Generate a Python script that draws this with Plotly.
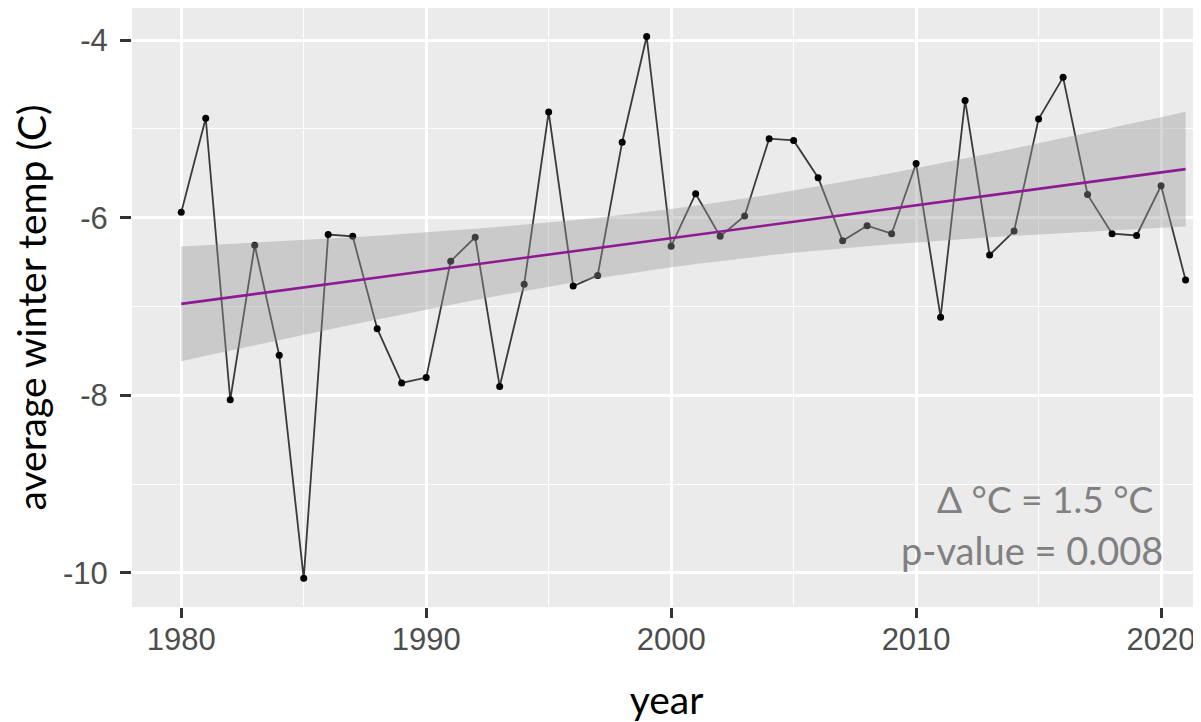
import numpy as np
import plotly.graph_objects as go

# ---- data ----
years = list(range(1980, 2022))
temps = [-5.94, -4.88, -8.05, -6.31, -7.55, -10.06, -6.19, -6.21, -7.25, -7.86,
         -7.80, -6.49, -6.22, -7.90, -6.75, -4.81, -6.77, -6.65, -5.15, -3.96,
         -6.32, -5.73, -6.21, -5.98, -5.11, -5.13, -5.55, -6.26, -6.09, -6.18,
         -5.39, -7.12, -4.68, -6.42, -6.15, -4.89, -4.42, -5.74, -6.18, -6.20,
         -5.64, -6.70]
x_ticks = [1980, 1990, 2000, 2010, 2020]
y_ticks = [-10, -8, -6, -4]
note_line1 = "Δ °C = 1.5 °C"
note_line2 = "p-value = 0.008"

# ---- linear fit with 95% confidence band (like geom_smooth(method="lm")) ----
x = np.array(years, dtype=float)
y = np.array(temps, dtype=float)
n = len(x)
slope, intercept = np.polyfit(x, y, 1)
fit = intercept + slope * x
resid = y - fit
s = np.sqrt(np.sum(resid ** 2) / (n - 2))
xbar = x.mean()
sxx = np.sum((x - xbar) ** 2)
t_crit = 2.0211  # t(0.975, df=40)
se = s * np.sqrt(1.0 / n + (x - xbar) ** 2 / sxx)
upper = fit + t_crit * se
lower = fit - t_crit * se

fig = go.Figure()

# observed series: line + points
fig.add_trace(go.Scatter(
    x=years, y=temps, mode="lines+markers",
    line=dict(color="#3a3a3a", width=1.8),
    marker=dict(color="#000000", size=7),
    showlegend=False, hoverinfo="x+y"))

# confidence ribbon (drawn over the points, as in ggplot)
fig.add_trace(go.Scatter(
    x=list(x) + list(x[::-1]), y=list(upper) + list(lower[::-1]),
    fill="toself", fillcolor="rgba(153,153,153,0.4)",
    line=dict(width=0), mode="lines", showlegend=False, hoverinfo="skip"))

# fitted line
fig.add_trace(go.Scatter(
    x=years, y=list(fit), mode="lines",
    line=dict(color="#8E1A94", width=2.6),
    showlegend=False, hoverinfo="skip"))

tick_font = dict(family="Liberation Sans, Arial, sans-serif", size=31, color="#4d4d4d")
title_font = dict(family="Lato, sans-serif", size=39, color="#000000")

# the page body adds an 8px margin, so the figure is sized to fit the window
fig.update_layout(
    width=1193, height=714,
    margin=dict(l=124, r=0, t=0, b=115),
    paper_bgcolor="white",
    plot_bgcolor="#EBEBEB",
    xaxis=dict(
        range=[1977.99, 2021.63], automargin=False,
        tickmode="array", tickvals=x_ticks, ticktext=[str(v) for v in x_ticks],
        showgrid=True, gridcolor="white", gridwidth=2.6,
        minor=dict(tickmode="array", tickvals=[1975, 1985, 1995, 2005, 2015],
                   showgrid=True, gridcolor="white", gridwidth=1.3),
        ticks="outside", ticklen=10, tickwidth=2.6, tickcolor="#333333",
        tickfont=tick_font, ticklabelstandoff=-5,
        zeroline=False, showline=False,
        title=dict(text="year", font=title_font, standoff=31),
    ),
    yaxis=dict(
        range=[-10.383, -3.639], automargin=False,
        tickmode="array", tickvals=y_ticks, ticktext=[str(v) for v in y_ticks],
        showgrid=True, gridcolor="white", gridwidth=2.6,
        minor=dict(tickmode="array", tickvals=[-9, -7, -5],
                   showgrid=True, gridcolor="white", gridwidth=1.3),
        ticks="outside", ticklen=11, tickwidth=2.6, tickcolor="#333333",
        tickfont=tick_font, ticklabelstandoff=6,
        zeroline=False, showline=False,
        title=dict(text="average winter temp (C)", font=title_font, standoff=14),
    ),
    annotations=[
        dict(x=2019.76, y=-9.156, xref="x", yref="y", text=note_line1,
             showarrow=False, xanchor="right", yanchor="middle",
             font=dict(family="Lato, sans-serif", size=37, color="#808080")),
        dict(x=2020.16, y=-9.741, xref="x", yref="y", text=note_line2,
             showarrow=False, xanchor="right", yanchor="middle",
             font=dict(family="Lato, sans-serif", size=38, color="#808080")),
    ],
)

fig.write_html("out.html")
